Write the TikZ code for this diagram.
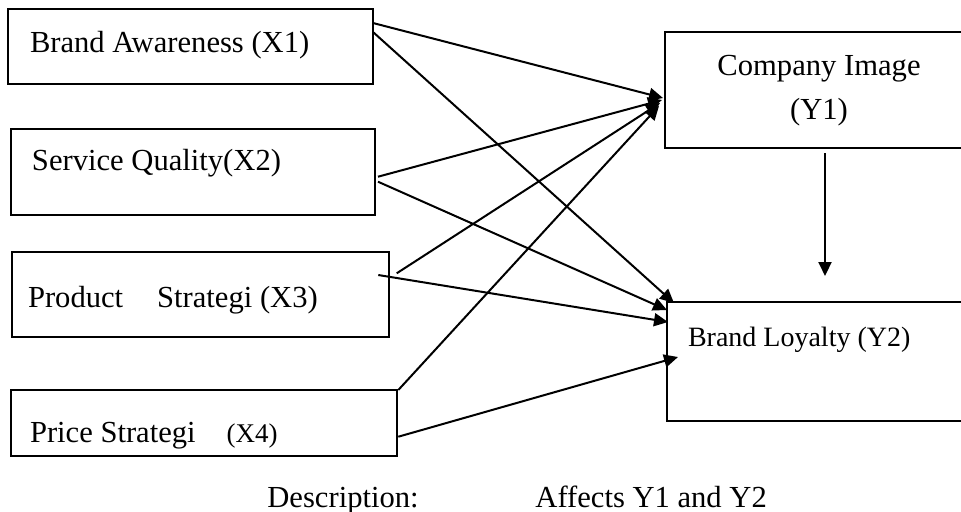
\documentclass[tikz,border=0pt]{standalone}
\usepackage{fontspec}
\setmainfont{Liberation Serif}
\usetikzlibrary{arrows.meta}

\begin{document}
\begin{tikzpicture}[x=0.5pt, y=-0.5pt,
    box/.style={draw, line width=0.6pt, outer sep=0pt, anchor=north west, inner ysep=0pt, align=left,
      font=\fontsize{15.3}{22}\selectfont, execute at begin node={\spaceskip=0pt\xspaceskip=0pt}},
    >={Triangle[length=7pt, width=6.5pt]},
    link/.style={->, line width=1pt}]
    \useasboundingbox (0,0) rectangle (961,511);
    \clip (0,0) rectangle (961,511);
    \node[box, inner xsep=11pt, text width=160.5pt, text height=21.5pt, text depth=16pt] (x1) at (8,9) {Brand Awareness (X1)};
    \node[box, inner xsep=10.5pt, text width=161pt, text height=20.5pt, text depth=22.5pt] (x2) at (11,129) {Service Quality(X2)};
    \node[box, line width=1pt, inner xsep=8pt, text width=172.5pt, text height=27.5pt, text depth=15pt] (x3) at (12,252) {Product\hspace{17pt}Strategi (X3)};
    \node[box, inner xsep=9.5pt, text width=174pt, text height=26pt, text depth=7pt] (x4) at (11,390) {Price Strategi\hspace{15.5pt}{\fontsize{13.5}{16}\selectfont(X4)}};
    \node[box, align=center, inner xsep=0pt, text width=154pt, text height=21.5pt, text depth=36.5pt] (y1) at (665,32) {\mbox{Company Image}\\(Y1)};
    \node[box, line width=1pt, inner xsep=10.5pt, text width=133pt, text height=22pt, text depth=37.5pt, font=\fontsize{14}{17}\selectfont] (y2) at (667,302) {Brand Loyalty (Y2)};
    \node[anchor=base west, inner sep=0pt, font=\fontsize{15.3}{22}\selectfont] (desc) at (267,507) {Description:};
    \node[anchor=base west, inner sep=0pt, font=\fontsize{15.3}{22}\selectfont] (affects) at (535,507) {Affects Y1 and Y2};
    \draw[link] ([yshift=11.75pt]x1.east) -- ([xshift=-1pt,yshift=-4pt]y1.west);
    \draw[link] ([yshift=7.25pt]x1.east) -- ([xshift=3.5pt,yshift=29.25pt]y2.west);
    \draw[link] ([xshift=1.5pt,yshift=-2.35pt]x2.east) -- ([xshift=-1.5pt,yshift=-5pt]y1.west);
    \draw[link] ([xshift=1.5pt,yshift=-4.85pt]x2.east) -- ([yshift=25.75pt]y2.west);
    \draw[link] ([xshift=3.85pt,yshift=10.6pt]x3.east) -- ([xshift=-2.5pt,yshift=-6.5pt]y1.west);
    \draw[link] ([xshift=-5.35pt,yshift=9.75pt]x3.east) -- ([xshift=0.5pt,yshift=19.75pt]y2.west);
    \draw[link] ([xshift=0.65pt,yshift=16.5pt]x4.east) -- ([xshift=-3pt,yshift=-8pt]y1.west);
    \draw[link] ([xshift=0.65pt,yshift=-6.85pt]x4.east) -- ([xshift=5.5pt,yshift=2.25pt]y2.west);
    \draw[link] ([xshift=3pt,yshift=-2.5pt]y1.south) -- ++(0,123);
\end{tikzpicture}
\end{document}
